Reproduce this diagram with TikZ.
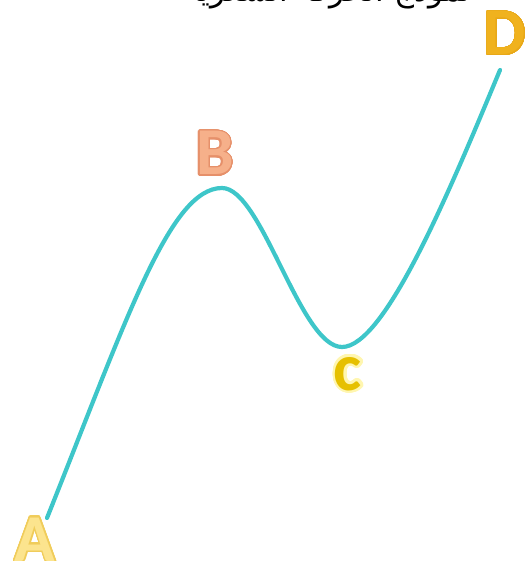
\documentclass[tikz,border=0pt]{standalone}
\usepackage{fontspec}
\setmainfont{Carlito}
\newfontfamily\arabicfont[Script=Arabic]{DejaVu Sans}
\TeXXeTstate=1
\usepackage{contour}
\contournumber{32}
\definecolor{wave}{HTML}{3EC6C9}
\definecolor{afill}{HTML}{FCE48E}
\definecolor{aline}{HTML}{F0CC5A}
\definecolor{bfill}{HTML}{F6B08A}
\definecolor{bline}{HTML}{E6906A}
\definecolor{cfill}{HTML}{E6C000}
\definecolor{cglow}{HTML}{FFF6B0}
\definecolor{dfill}{HTML}{F0B21E}
\definecolor{dline}{HTML}{E8A818}
\tikzset{
  lbl/.style={anchor=base, inner sep=0pt, font=\fontsize{67}{67}\selectfont\bfseries},
  curve/.style={draw=wave, line width=4.2pt, line cap=round},
}
\begin{document}
\begin{tikzpicture}[x=1pt,y=-1pt]
\useasboundingbox (0,0) rectangle (524,561);
\node[anchor=base, inner sep=0pt, font=\arabicfont\fontsize{31}{31}\selectfont] (title) at (328,2) {\beginR نموذج الحركة السعرية\endR};
\coordinate (pA) at (47,518);
\coordinate (pB) at (222,188);
\coordinate (pC) at (342,347);
\coordinate (pD) at (500,70);
\draw[curve] (pA) .. controls (127,318) and (170,188) .. (pB)
  .. controls (262,188) and (300,347) .. (pC)
  .. controls (385,347) and (450,190) .. (pD);
\node[lbl, afill] (A) at (35,561) {\contourlength{1.3pt}\contour{aline}{A}};
\node[lbl, bfill] (B) at (215,175) {\contourlength{1.3pt}\contour{bline}{B}};
\node[lbl, cfill] (C) at (348,390) {\contourlength{2.5pt}\contour{cglow}{c}};
\node[lbl, dfill] (D) at (505,55) {\contourlength{0.8pt}\contour{dline}{D}};
\end{tikzpicture}
\end{document}
